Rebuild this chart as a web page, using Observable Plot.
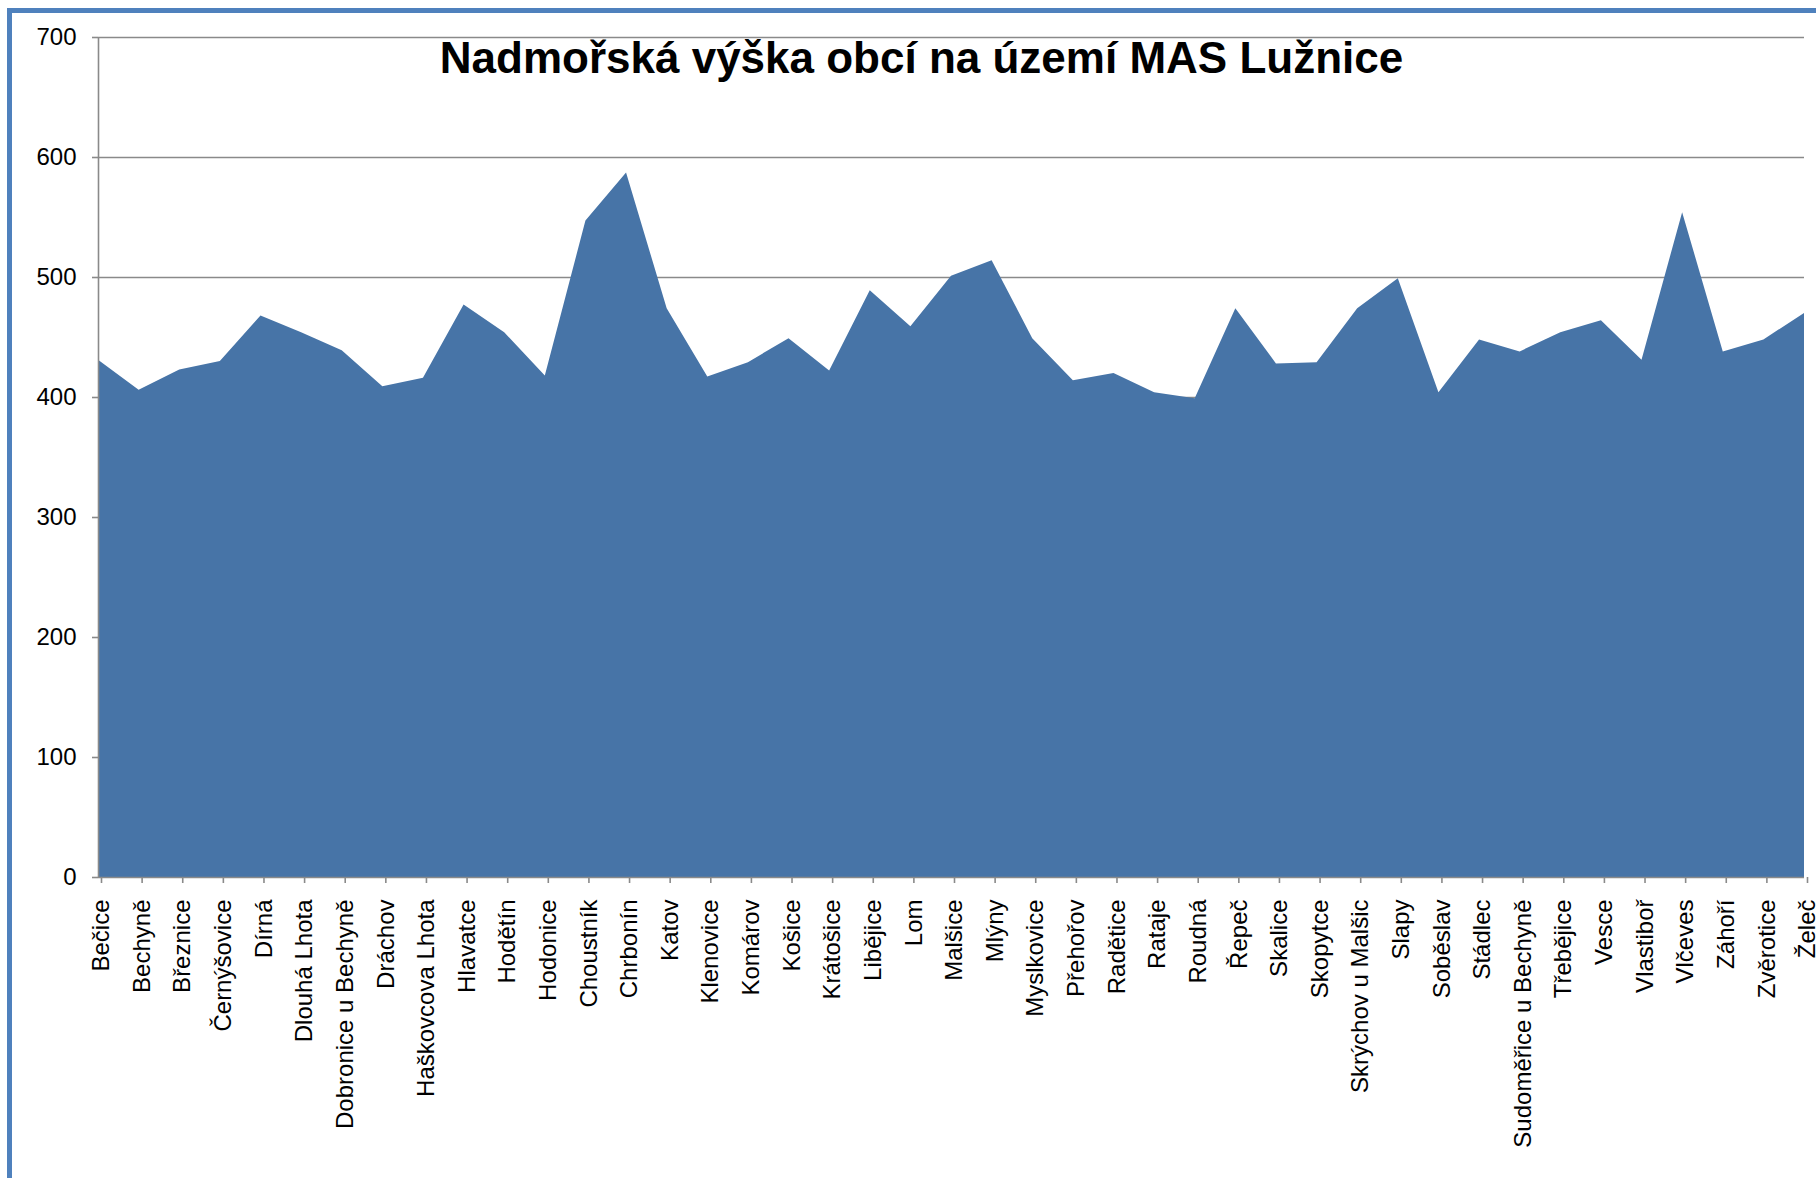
<!DOCTYPE html>
<html>
<head>
<meta charset="utf-8">
<script src="https://cdn.jsdelivr.net/npm/d3@7"></script>
<script src="https://cdn.jsdelivr.net/npm/@observablehq/plot@0.6"></script>
<style>
  html, body { margin: 0; padding: 0; background: #fff; overflow: hidden; }
  #wrap { position: relative; width: 1816px; height: 1178px; }
  #frame { position: absolute; left: 7px; top: 8px; width: 1830px; height: 1200px;
           border-left: 5px solid #4f81bd; border-top: 5px solid #4f81bd; box-sizing: border-box; }
  #chart { position: absolute; left: 0; top: 0; }
</style>
</head>
<body>
<div id="wrap"><div id="frame"></div><div id="chart"></div></div>
<script>
const title = "Nadmořská výška obcí na území MAS Lužnice";
const municipalities = ["Bečice","Bechyně","Březnice","Černýšovice","Dírná","Dlouhá Lhota","Dobronice u Bechyně","Dráchov","Haškovcova Lhota","Hlavatce","Hodětín","Hodonice","Choustník","Chrbonín","Katov","Klenovice","Komárov","Košice","Krátošice","Libějice","Lom","Malšice","Mlýny","Myslkovice","Přehořov","Radětice","Rataje","Roudná","Řepeč","Skalice","Skopytce","Skrýchov u Malšic","Slapy","Soběslav","Stádlec","Sudoměřice u Bechyně","Třebějice","Vesce","Vlastiboř","Vlčeves","Záhoří","Zvěrotice","Želeč"];
const elevations = [431,406,423,430,468,454,439,409,416,477,454,418,547,587,474,417,429,449,422,489,459,501,514,449,414,420,404,399,474,428,429,474,499,404,448,438,454,464,431,554,438,448,470];
const yTicks = [0,100,200,300,400,500,600,700];

const data = municipalities.map((name, i) => ({name, elev: elevations[i]}));
const font = "'Liberation Sans', Arial, sans-serif";
const gray = "#8a8a8a";

const chart = Plot.plot({
  width: 1816,
  height: 1178,
  marginLeft: 98,
  marginRight: 12,
  marginTop: 37,
  marginBottom: 301,
  style: {fontFamily: font, fontSize: "24px", color: "#000", background: "transparent"},
  x: {type: "point", domain: municipalities, padding: 0, round: false, label: null},
  y: {domain: [0, 700], label: null},
  marks: [
    Plot.gridY(yTicks.filter(d => d > 0), {stroke: gray, strokeOpacity: 1, strokeWidth: 1.6}),
    Plot.areaY(data, {x: "name", y: "elev", fill: "#4774a7"}),
    Plot.ruleY([0], {stroke: gray, strokeWidth: 1.6}),
    Plot.ruleX([municipalities[0]], {y1: 0, y2: 700, stroke: gray, strokeWidth: 1.6}),
    Plot.axisY({ticks: yTicks, tickSize: 6, tickPadding: 16, stroke: gray, strokeWidth: 1.6, fontSize: 24, fill: "#000", label: null}),
    Plot.axisX({tickRotate: -90, tickSize: 6, tickPadding: 16, dx: 3, stroke: gray, strokeWidth: 1.6, fontSize: 24, fill: "#000", label: null}),
    Plot.text([title], {frameAnchor: "top", dx: -30, dy: 35, lineAnchor: "bottom", fontSize: 44, fontWeight: "bold", fill: "#000"})
  ]
});
document.getElementById("chart").appendChild(chart);
</script>
</body>
</html>
